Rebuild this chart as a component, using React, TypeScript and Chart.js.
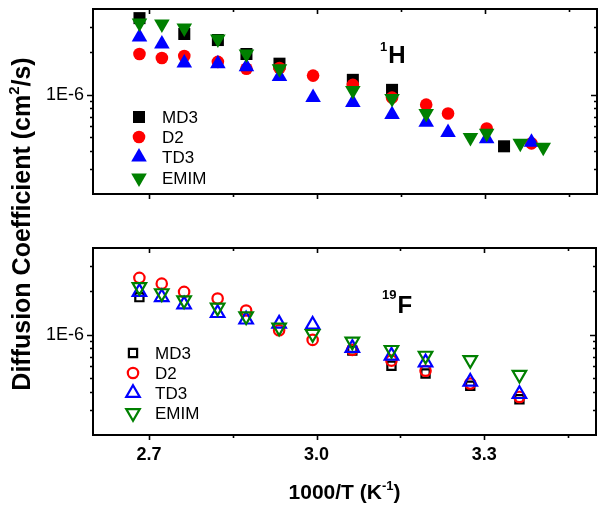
import React, { useEffect, useRef } from "react";
import { Chart, registerables } from "chart.js";

Chart.register(...registerables);

const FONT = "'Liberation Sans', Arial, Helvetica, sans-serif";

// ---- axes ----
const X_MIN = 2.6;
const X_MAX = 3.5;
const Y_MIN = 2e-7;
const Y_MAX = 4e-6;
const xMajorTicks = [2.7, 3.0, 3.3];
const xTickLabels = ["2.7", "3.0", "3.3"];
const xMinorTicks = [2.85, 3.15, 3.45];
const yMajorTicks = [1e-6];
const yTickLabels = ["1E-6"];
const yMinorTicks = [3e-7, 4e-7, 5e-7, 6e-7, 7e-7, 8e-7, 9e-7, 2e-6, 3e-6];

const xTitleMain = "1000/T (K";
const xTitleSup = "-1";
const xTitleEnd = ")";
const yTitleMain = "Diffusion Coefficient (cm";
const yTitleSup = "2";
const yTitleEnd = "/s)";

// ---- series ----
const seriesNames = ["MD3", "D2", "TD3", "EMIM"];
const seriesColors = ["#000000", "#ff0000", "#0000ff", "#008000"];
const seriesStyles = ["rect", "circle", "triangle", "triangle"];
const seriesRotations = [0, 0, 0, 180];

// 1H panel (filled markers)
const hMD3x = [2.683, 2.763, 2.823, 2.874, 2.933, 3.064, 3.134, 3.334];
const hMD3y = [3.45e-6, 2.67e-6, 2.42e-6, 1.93e-6, 1.65e-6, 1.27e-6, 1.08e-6, 0.433e-6];
const hD2x = [2.683, 2.723, 2.763, 2.823, 2.874, 2.933, 2.993, 3.064, 3.134, 3.195, 3.234, 3.303, 3.383];
const hD2y = [1.93e-6, 1.81e-6, 1.87e-6, 1.7e-6, 1.52e-6, 1.54e-6, 1.36e-6, 1.17e-6, 0.953e-6, 0.85e-6, 0.736e-6, 0.578e-6, 0.454e-6];
const hTD3x = [2.683, 2.723, 2.763, 2.823, 2.874, 2.933, 2.993, 3.064, 3.134, 3.195, 3.234, 3.303, 3.383];
const hTD3y = [2.54e-6, 2.27e-6, 1.67e-6, 1.65e-6, 1.57e-6, 1.34e-6, 0.953e-6, 0.879e-6, 0.725e-6, 0.64e-6, 0.542e-6, 0.49e-6, 0.462e-6];
const hEMIMx = [2.683, 2.723, 2.763, 2.823, 2.874, 2.933, 3.064, 3.134, 3.195, 3.274, 3.303, 3.363, 3.404];
const hEMIMy = [3.19e-6, 3.14e-6, 2.94e-6, 2.46e-6, 1.93e-6, 1.52e-6, 1.07e-6, 0.938e-6, 0.736e-6, 0.5e-6, 0.534e-6, 0.454e-6, 0.426e-6];

// 19F panel (open markers)
const fMD3x = [2.683, 3.064, 3.134, 3.195, 3.275, 3.363];
const fMD3y = [1.82e-6, 0.773e-6, 0.607e-6, 0.536e-6, 0.44e-6, 0.355e-6];
const fD2x = [2.683, 2.723, 2.763, 2.823, 2.874, 2.933, 2.993, 3.064, 3.134, 3.195, 3.275, 3.363];
const fD2y = [2.48e-6, 2.26e-6, 1.98e-6, 1.78e-6, 1.47e-6, 1.07e-6, 0.918e-6, 0.782e-6, 0.658e-6, 0.56e-6, 0.456e-6, 0.368e-6];
const fTD3x = [2.683, 2.723, 2.763, 2.823, 2.874, 2.933, 2.993, 3.064, 3.134, 3.195, 3.275, 3.363];
const fTD3y = [1.98e-6, 1.82e-6, 1.62e-6, 1.41e-6, 1.27e-6, 1.19e-6, 1.17e-6, 0.807e-6, 0.713e-6, 0.64e-6, 0.469e-6, 0.385e-6];
const fEMIMx = [2.683, 2.723, 2.763, 2.823, 2.874, 2.933, 2.993, 3.064, 3.134, 3.195, 3.275, 3.363];
const fEMIMy = [2.14e-6, 1.94e-6, 1.73e-6, 1.54e-6, 1.34e-6, 1.12e-6, 1.01e-6, 0.893e-6, 0.782e-6, 0.713e-6, 0.665e-6, 0.525e-6];

const hSeriesX = [hMD3x, hD2x, hTD3x, hEMIMx];
const hSeriesY = [hMD3y, hD2y, hTD3y, hEMIMy];
const fSeriesX = [fMD3x, fD2x, fTD3x, fEMIMx];
const fSeriesY = [fMD3y, fD2y, fTD3y, fEMIMy];

const topRadii = [8.5, 6.3, 9, 9];
const botRadii = [5.8, 5.2, 7.8, 7.8];

function drawMarker(ctx, style, x, y, r, rotation, fill, stroke, lw) {
  ctx.save();
  ctx.beginPath();
  if (style === "circle") {
    ctx.arc(x, y, r, 0, Math.PI * 2);
  } else if (style === "rect") {
    const s = Math.SQRT1_2 * r;
    ctx.rect(x - s, y - s, 2 * s, 2 * s);
  } else {
    let rad = (rotation * Math.PI) / 180;
    for (let i = 0; i < 3; i++) {
      const px = x + Math.sin(rad) * r;
      const py = y - Math.cos(rad) * r;
      if (i === 0) ctx.moveTo(px, py);
      else ctx.lineTo(px, py);
      rad += (2 * Math.PI) / 3;
    }
    ctx.closePath();
  }
  if (fill) {
    ctx.fillStyle = fill;
    ctx.fill();
  }
  if (stroke && lw) {
    ctx.strokeStyle = stroke;
    ctx.lineWidth = lw;
    ctx.stroke();
  }
  ctx.restore();
}

const panelPlugin = {
  id: "panel",
  afterDraw(chart, _args, opts) {
    const { ctx, chartArea: a, scales } = chart;
    const xs = scales.x;
    const ys = scales.y;
    ctx.save();
    // frame
    ctx.strokeStyle = "#000";
    ctx.lineWidth = 2;
    ctx.strokeRect(a.left, a.top, a.right - a.left, a.bottom - a.top);
    // ticks
    ctx.lineWidth = 1.6;
    ctx.beginPath();
    const xt = (vals, len) => {
      vals.forEach((v) => {
        const px = Math.round(xs.getPixelForValue(v)) + 0.5;
        ctx.moveTo(px, a.bottom);
        ctx.lineTo(px, a.bottom + len);
        ctx.moveTo(px, a.top);
        ctx.lineTo(px, a.top + len);
      });
    };
    const yt = (vals, len) => {
      vals.forEach((v) => {
        const py = Math.round(ys.getPixelForValue(v)) + 0.5;
        ctx.moveTo(a.left, py);
        ctx.lineTo(a.left - len, py);
        ctx.moveTo(a.right, py);
        ctx.lineTo(a.right - len, py);
      });
    };
    xt(xMajorTicks, 5);
    xt(xMinorTicks, 3);
    yt(yMajorTicks, 6);
    yt(yMinorTicks, 3);
    ctx.stroke();

    // legend
    const lg = opts.legend;
    ctx.font = `17px ${FONT}`;
    ctx.fillStyle = "#000";
    ctx.textBaseline = "middle";
    ctx.textAlign = "left";
    seriesNames.forEach((name, i) => {
      const y = lg.rows[i];
      if (lg.filled) {
        drawMarker(ctx, seriesStyles[i], lg.markerX, y, lg.radii[i], seriesRotations[i], seriesColors[i], null, 0);
      } else {
        drawMarker(ctx, seriesStyles[i], lg.markerX, y, lg.radii[i], seriesRotations[i], null, seriesColors[i], 2.2);
      }
      ctx.fillStyle = "#000";
      ctx.fillText(name, lg.textX, y + 1);
    });

    // panel label
    const pl = opts.label;
    ctx.textBaseline = "alphabetic";
    ctx.font = `bold 13px ${FONT}`;
    ctx.fillText(pl.sup, pl.x, pl.supBase);
    const w = ctx.measureText(pl.sup).width;
    ctx.font = `bold 24px ${FONT}`;
    ctx.fillText(pl.main, pl.x + w + 1, pl.base);

    if (opts.titles) {
      // x title
      ctx.font = `bold 21px ${FONT}`;
      const w1 = ctx.measureText(xTitleMain).width;
      const w3 = ctx.measureText(xTitleEnd).width;
      ctx.font = `bold 13px ${FONT}`;
      const w2 = ctx.measureText(xTitleSup).width;
      const cx = (a.left + a.right) / 2;
      let x0 = cx - (w1 + w2 + w3) / 2;
      const base = 499;
      ctx.font = `bold 21px ${FONT}`;
      ctx.fillText(xTitleMain, x0, base);
      x0 += w1;
      ctx.font = `bold 13px ${FONT}`;
      ctx.fillText(xTitleSup, x0, base - 9);
      x0 += w2;
      ctx.font = `bold 21px ${FONT}`;
      ctx.fillText(xTitleEnd, x0, base);

      // y title
      ctx.save();
      ctx.translate(21, 224);
      ctx.rotate(-Math.PI / 2);
      ctx.font = `bold 25px ${FONT}`;
      const v1 = ctx.measureText(yTitleMain).width;
      const v3 = ctx.measureText(yTitleEnd).width;
      ctx.font = `bold 15px ${FONT}`;
      const v2 = ctx.measureText(yTitleSup).width;
      let t0 = -(v1 + v2 + v3) / 2;
      ctx.font = `bold 25px ${FONT}`;
      ctx.fillText(yTitleMain, t0, 9);
      t0 += v1;
      ctx.font = `bold 15px ${FONT}`;
      ctx.fillText(yTitleSup, t0, -2);
      t0 += v2;
      ctx.font = `bold 25px ${FONT}`;
      ctx.fillText(yTitleEnd, t0, 9);
      ctx.restore();
    }
    ctx.restore();
  },
};

function makeDatasets(xsArr, ysArr, radii, filled) {
  return seriesNames.map((name, i) => ({
    label: name,
    data: xsArr[i].map((x, j) => ({ x, y: ysArr[i][j] })),
    pointStyle: seriesStyles[i],
    pointRotation: seriesRotations[i],
    pointRadius: radii[i],
    pointHoverRadius: radii[i],
    backgroundColor: filled ? seriesColors[i] : "rgba(0,0,0,0)",
    borderColor: seriesColors[i],
    borderWidth: filled ? 0 : 2.2,
    showLine: false,
    order: 3 - i,
  }));
}

function zeroPad(s) {
  s.paddingTop = 0;
  s.paddingBottom = 0;
  s.paddingLeft = 0;
  s.paddingRight = 0;
}

function makeOptions(top) {
  return {
    animation: false,
    responsive: false,
    devicePixelRatio: 1,
    layout: {
      padding: top
        ? { top: 7, bottom: 314, right: 8, left: 0 }
        : { top: 248, bottom: 0, right: 8, left: 0 },
    },
    plugins: {
      legend: { display: false },
      tooltip: { enabled: false },
      panel: top
        ? {
            legend: { filled: true, markerX: 139, textX: 162, rows: [117, 137, 157, 178], radii: topRadii },
            label: { sup: "1", main: "H", x: 380, supBase: 51, base: 63 },
            titles: false,
          }
        : {
            legend: { filled: false, markerX: 133, textX: 155, rows: [353, 373, 393, 413], radii: botRadii },
            label: { sup: "19", main: "F", x: 382, supBase: 299, base: 313 },
            titles: true,
          },
    },
    scales: {
      x: {
        type: "linear",
        min: X_MIN,
        max: X_MAX,
        position: "bottom",
        display: !top,
        grid: { display: false, drawTicks: false },
        border: { display: false },
        afterBuildTicks: (s) => {
          s.ticks = xMajorTicks.map((v) => ({ value: v }));
        },
        ticks: {
          callback: (_v, i) => xTickLabels[i],
          font: { family: FONT, size: 18, weight: "bold" },
          color: "#000",
          padding: 9,
          maxRotation: 0,
          autoSkip: false,
        },
        afterFit: (s) => {
          s.height = top ? 0 : 508 - 435;
          zeroPad(s);
        },
      },
      y: {
        type: "logarithmic",
        min: Y_MIN,
        max: Y_MAX,
        position: "left",
        grid: { display: false, drawTicks: false },
        border: { display: false },
        afterBuildTicks: (s) => {
          s.ticks = yMajorTicks.map((v) => ({ value: v }));
        },
        ticks: {
          callback: (_v, i) => yTickLabels[i],
          font: { family: FONT, size: 18 },
          color: "#000",
          padding: 9,
          autoSkip: false,
        },
        afterFit: (s) => {
          s.width = 93;
          zeroPad(s);
        },
      },
    },
  };
}

export default function App() {
  const topRef = useRef(null);
  const botRef = useRef(null);

  useEffect(() => {
    const c1 = new Chart(topRef.current, {
      type: "scatter",
      data: { datasets: makeDatasets(hSeriesX, hSeriesY, topRadii, true) },
      options: makeOptions(true),
      plugins: [panelPlugin],
    });
    const c2 = new Chart(botRef.current, {
      type: "scatter",
      data: { datasets: makeDatasets(fSeriesX, fSeriesY, botRadii, false) },
      options: makeOptions(false),
      plugins: [panelPlugin],
    });
    return () => {
      c1.destroy();
      c2.destroy();
    };
  }, []);

  const cs = { position: "absolute", left: 0, top: 0, width: 606, height: 508 } as any;
  return (
    <div style={{ position: "fixed", left: 0, top: 0, width: 606, height: 508, background: "#fff" }}>
      <canvas ref={topRef} width={606} height={508} style={cs} />
      <canvas ref={botRef} width={606} height={508} style={cs} />
    </div>
  );
}
